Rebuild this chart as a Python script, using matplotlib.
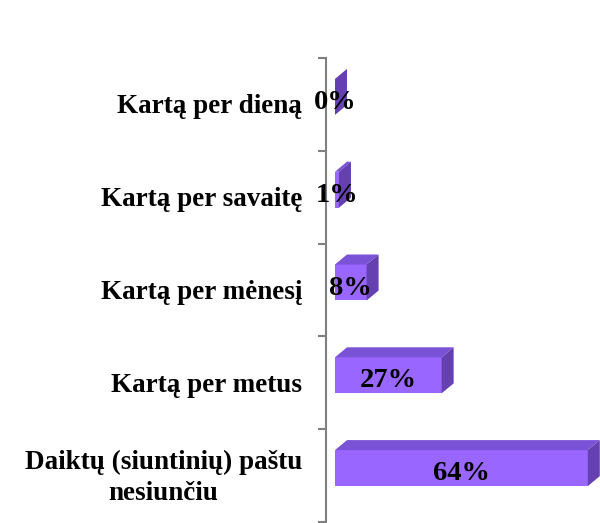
import numpy as np
import matplotlib
matplotlib.use("Agg")
import matplotlib.pyplot as plt
import matplotlib.transforms as mtransforms
from matplotlib.patches import Polygon

# data (bottom to top)
categories = ["Daiktų (siuntinių) paštu\nnesiunčiu", "Kartą per metus",
              "Kartą per mėnesį", "Kartą per savaitę", "Kartą per dieną"]
values = [64, 27, 8, 1, 0]
labels = ["64%", "27%", "8%", "1%", "0%"]

front_col = "#9966FF"
top_col = "#7A52D6"
side_col = "#6440B0"

plt.rcParams['font.family'] = ['Liberation Serif', 'DejaVu Serif']
plt.rcParams['font.weight'] = 'bold'

fig = plt.figure(figsize=(6, 5.23), dpi=100)
ax = fig.add_axes([326 / 600, 0, 274 / 600, (523 - 58) / 523])

px = 3.95           # pixels per percent
x0 = 9 / px         # gap between axis and bar
bh = 36 / 92.8      # bar height in category units
off = 7.5 / 92.8    # bar raised above category centre
dx = 12 / px
dy = 10 / 92.8

ypos = np.arange(len(values))
ax.barh(ypos + off, values, height=bh, left=0, color=front_col, edgecolor="none", zorder=2)
for y, v in zip(ypos, values):
    yb = y + off - bh / 2
    yt = y + off + bh / 2
    top = Polygon([(0, yt), (v, yt), (v + dx, yt + dy), (dx, yt + dy)],
                  closed=True, facecolor=top_col, edgecolor="none", zorder=3)
    side = Polygon([(v, yb), (v, yt), (v + dx, yt + dy), (v + dx, yb + dy)],
                   closed=True, facecolor=side_col, edgecolor="none", zorder=3)
    ax.add_patch(top)
    ax.add_patch(side)

for y, v, lab in zip(ypos, values, labels):
    ax.text(v / 2, y + off - 0.06, lab, ha="center", va="center",
            fontsize=20.5, fontweight="bold", zorder=5)

# category labels
trans = mtransforms.blended_transform_factory(ax.transAxes, ax.transData)
for y, cat in zip(ypos, categories):
    ax.text(-24 / 274, y - 0.025, cat, transform=trans, ha="right", va="center",
            multialignment="center", linespacing=1.3,
            fontsize=19.5, fontweight="bold", clip_on=False)

ax.set_xlim(-x0, (600 - 335) / px)
ax.set_ylim(-0.5 - 1 / 92.8, 4.5)

ax.set_yticks(np.arange(-0.5, 5, 1.0))
ax.set_yticklabels([])
ax.tick_params(axis="y", length=6, width=1.5, color="#808080")
ax.set_xticks([])

for s in ["top", "right", "bottom"]:
    ax.spines[s].set_visible(False)
ax.spines["left"].set_color("#808080")
ax.spines["left"].set_linewidth(1.5)
ax.spines["left"].set_position(("data", -x0))

fig.savefig("out.png", dpi=100)
